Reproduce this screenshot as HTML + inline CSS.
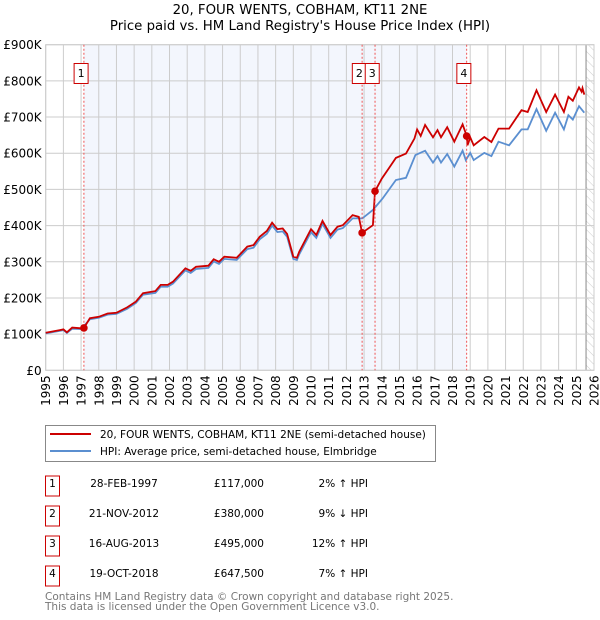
<!DOCTYPE html>
<html><head><meta charset="utf-8"><style>
body{margin:0;background:#fff;font-family:"Liberation Sans","DejaVu Sans",sans-serif;}
#wrap{position:relative;width:600px;height:620px;overflow:hidden;}
</style></head><body><div id="wrap">
<svg id="chart" width="600" height="620" xmlns="http://www.w3.org/2000/svg" font-family="DejaVu Sans, Liberation Sans, sans-serif">
<defs><pattern id="hatch" width="6" height="6" patternUnits="userSpaceOnUse" patternTransform="rotate(-45)"><line x1="0" y1="0" x2="0" y2="6" stroke="#ccc" stroke-width="1"/></pattern></defs>
<text x="300" y="14" text-anchor="middle" font-size="13.3" fill="#000">20, FOUR WENTS, COBHAM, KT11 2NE</text>
<text x="300" y="30" text-anchor="middle" font-size="13.3" fill="#000">Price paid vs. HM Land Registry's House Price Index (HPI)</text>
<g id="plot"></g>
<g>
<rect x="45.5" y="425.5" width="390" height="36" fill="#fff" stroke="#888"/>
<line x1="50" y1="434" x2="91" y2="434" stroke="#cc0000" stroke-width="2"/>
<text x="100" y="438" font-size="10.5">20, FOUR WENTS, COBHAM, KT11 2NE (semi-detached house)</text>
<line x1="50" y1="451" x2="91" y2="451" stroke="#5b8fd0" stroke-width="2"/>
<text x="100" y="455" font-size="10.5">HPI: Average price, semi-detached house, Elmbridge</text>
</g>
<g id="table" font-size="10.5"></g>
<text x="45" y="600" font-size="10.5" fill="#777">Contains HM Land Registry data © Crown copyright and database right 2025.</text>
<text x="45" y="610" font-size="10.5" fill="#777">This data is licensed under the Open Government Licence v3.0.</text>
</svg>
<script>
const yTicks=[0,100000,200000,300000,400000,500000,600000,700000,800000,900000];
const yTickLabels=["£0","£100K","£200K","£300K","£400K","£500K","£600K","£700K","£800K","£900K"];
const xYears=[1995,1996,1997,1998,1999,2000,2001,2002,2003,2004,2005,2006,2007,2008,2009,2010,2011,2012,2013,2014,2015,2016,2017,2018,2019,2020,2021,2022,2023,2024,2025,2026];
const redDates=[1995.0,1995.8,1996.0,1996.2,1996.5,1997.0,1997.16,1997.5,1998.0,1998.5,1999.0,1999.6,2000.1,2000.5,2001.2,2001.5,2001.9,2002.2,2002.9,2003.2,2003.5,2004.2,2004.5,2004.8,2005.1,2005.8,2006.4,2006.75,2007.1,2007.5,2007.8,2008.1,2008.4,2008.65,2009.0,2009.2,2009.34,2010.0,2010.3,2010.65,2011.1,2011.5,2011.8,2012.35,2012.7,2012.89,2013.5,2013.62,2014.0,2014.4,2014.8,2015.37,2015.85,2016.0,2016.2,2016.45,2016.9,2017.15,2017.35,2017.7,2018.1,2018.57,2018.8,2018.85,2019.0,2019.2,2019.8,2020.2,2020.6,2021.2,2021.9,2022.25,2022.75,2023.3,2023.8,2024.3,2024.55,2024.8,2025.15,2025.3,2025.35,2025.45];
const redValues=[104000,111000,113000,105000,118000,116000,117000,144000,148000,157000,159000,174000,190000,213000,219000,236000,236000,245000,282000,275000,286000,289000,307000,300000,314000,311000,342000,346000,369000,385000,408000,390000,392000,377000,314000,311000,328000,390000,374000,413000,374000,397000,401000,429000,424000,380000,401000,495000,530000,558000,587000,599000,641000,666000,648000,678000,644000,664000,644000,672000,632000,680000,647500,622000,644000,622000,645000,631000,668000,668000,719000,714000,774000,714000,762000,714000,756000,745000,782000,770000,780000,762000];
const hpiDates=[1995.0,1995.8,1996.0,1996.2,1996.5,1997.0,1997.5,1998.0,1998.5,1999.0,1999.6,2000.1,2000.5,2001.2,2001.5,2001.9,2002.2,2002.9,2003.2,2003.5,2004.2,2004.5,2004.8,2005.1,2005.8,2006.4,2006.75,2007.1,2007.5,2007.8,2008.1,2008.4,2008.65,2009.0,2009.2,2009.34,2010.0,2010.3,2010.65,2011.1,2011.5,2011.8,2012.35,2012.9,2013.5,2014.05,2014.8,2015.37,2015.9,2016.45,2016.9,2017.15,2017.35,2017.7,2018.1,2018.57,2018.75,2019.0,2019.2,2019.8,2020.2,2020.6,2021.2,2021.9,2022.25,2022.75,2023.3,2023.8,2024.3,2024.55,2024.8,2025.15,2025.45];
const hpiValues=[102000,109000,111000,103000,115000,114000,141000,145000,154000,156000,170000,186000,209000,214000,231000,231000,240000,276000,269000,280000,283000,301000,294000,308000,305000,335000,339000,362000,377000,400000,382000,384000,369000,308000,305000,321000,382000,366000,405000,366000,389000,393000,420000,420000,443000,475000,526000,532000,595000,607000,574000,592000,574000,598000,563000,607000,581000,601000,581000,601000,592000,632000,622000,666000,666000,722000,662000,712000,666000,705000,693000,730000,712000];
const saleLabels=["1","2","3","4"];
const saleDates=[1997.16,2012.89,2013.62,2018.80];
const saleValues=[117000,380000,495000,647500];
const saleDateText=["28-FEB-1997","21-NOV-2012","16-AUG-2013","19-OCT-2018"];
const salePriceText=["£117,000","£380,000","£495,000","£647,500"];
const saleHpiText=["2% ↑ HPI","9% ↓ HPI","12% ↑ HPI","7% ↑ HPI"];

const NS="http://www.w3.org/2000/svg";
const L=45.7,R=594,T=44.7,B=370.3,X0=1995,X1=2026,YMAX=900000;
const xs=v=>L+(v-X0)/(X1-X0)*(R-L);
const ys=v=>B-v/YMAX*(B-T);
const plot=document.getElementById('plot');
function mk(tag,attrs,parent){const e=document.createElementNS(NS,tag);for(const k in attrs)e.setAttribute(k,attrs[k]);(parent||plot).appendChild(e);return e;}
let e;
e=mk('rect',{x:L,y:T,width:R-L,height:B-T,fill:'#fff'});


e=mk('rect',{x:xs(saleDates[0]),y:T,width:xs(saleDates[3])-xs(saleDates[0]),height:B-T,fill:'#f3f6fd'});


e=mk('rect',{x:xs(2025.55),y:T,width:R-xs(2025.55),height:B-T,fill:'url(#hatch)'});


e=mk('line',{x1:xs(2025.55),x2:xs(2025.55),y1:T,y2:B,stroke:'#888','stroke-width':1});


yTicks.forEach((v,i)=>{
 const g=mk('line',{x1:L,x2:R,y1:ys(v),y2:ys(v),stroke:'#ccc','stroke-width':1});
 
 
 const t=mk('text',{x:L-4,y:ys(v)+4.5,'text-anchor':'end','font-size':'12'});
 t.textContent=yTickLabels[i];
 
 
});
xYears.forEach(yr=>{
 const g=mk('line',{x1:xs(yr),x2:xs(yr),y1:T,y2:B,stroke:'#ccc','stroke-width':1});
 
 
 const t=mk('text',{x:0,y:0,'text-anchor':'end','font-size':'12',transform:`translate(${xs(yr)+4.5},${B+5}) rotate(-90)`});
 t.textContent=yr;
 
 
});
e=mk('rect',{x:L,y:T,width:R-L,height:B-T,fill:'none',stroke:'#ccc'});


function path(d,v){return d.map((x,i)=>(i?'L':'M')+xs(x).toFixed(1)+','+ys(v[i]).toFixed(1)).join('');}
e=mk('path',{d:path(hpiDates,hpiValues),fill:'none',stroke:'#5b8fd0','stroke-width':1.8});


e=mk('path',{d:path(redDates,redValues),fill:'none',stroke:'#cc0000','stroke-width':1.8});


saleDates.forEach((d,i)=>{
 const x=xs(d);
 const l=mk('line',{x1:x,x2:x,y1:T,y2:B,stroke:'#e55','stroke-width':1,'stroke-dasharray':'2,2'});
 
 
 const b=mk('rect',{x:x-9.8,y:63.5,width:14,height:20,fill:'#fff',stroke:'#cc0000'});
 
 
 const t=mk('text',{x:x-2.8,y:77,'text-anchor':'middle','font-size':'11'});
 t.textContent=saleLabels[i];
 
 
 const c=mk('circle',{cx:x,cy:ys(saleValues[i]),r:3.8,fill:'#cc0000'});
 
 
});
const tb=document.getElementById('table');
saleLabels.forEach((s,i)=>{
 const cy=486+i*30;
 const b=mk('rect',{x:45.5,y:cy-10,width:14,height:20,fill:'#fff',stroke:'#cc0000'},tb);
 
 
 const vals=[[52.5,s,'middle'],[124,saleDateText[i],'middle'],[264,salePriceText[i],'end'],[368,saleHpiText[i],'end']];
 vals.forEach(v=>{
  const t=mk('text',{x:v[0],y:cy+1,'text-anchor':v[2],'font-size':'10.5'},tb);
  t.textContent=v[1];
  
  
 });
});
</script>
</div></body></html>
